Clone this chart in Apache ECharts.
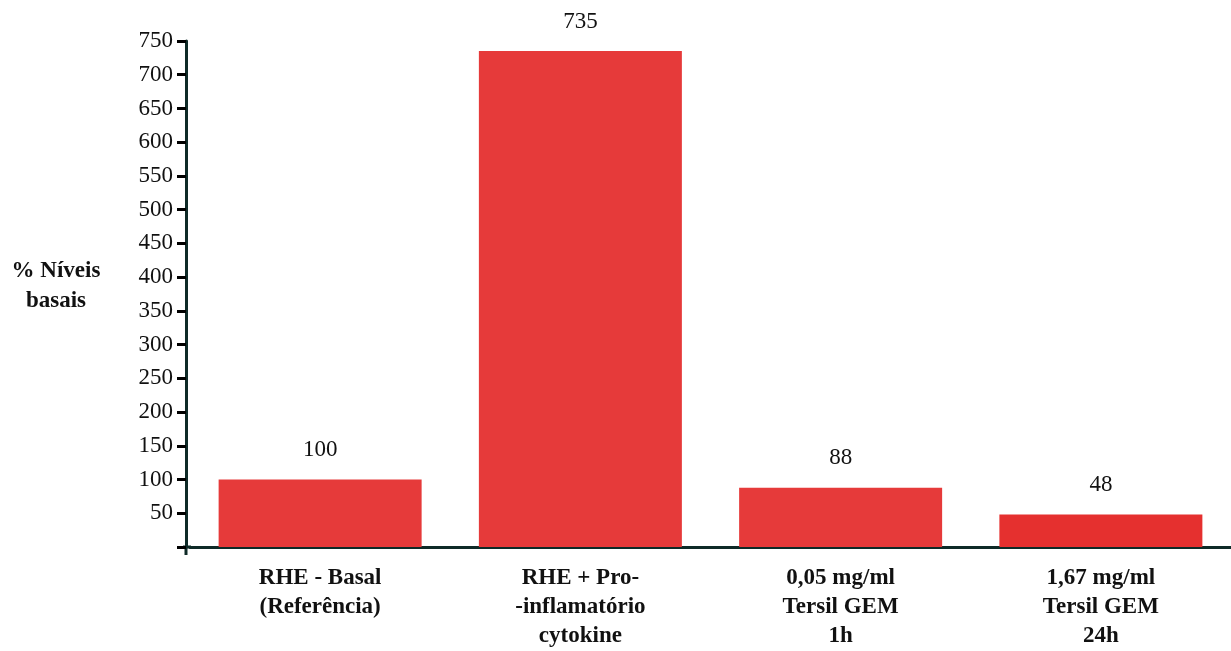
<!DOCTYPE html>
<html>
<head>
<meta charset="utf-8">
<script src="https://cdn.jsdelivr.net/npm/echarts@6/dist/echarts.min.js"></script>
<style>
  html, body { margin: 0; padding: 0; background: #ffffff; }
  #chart { width: 1231px; height: 651px; }
</style>
</head>
<body>
<div id="chart"></div>
<script>
// Categories (multi-line axis labels) and the measured values
const categories = [
  'RHE - Basal\n(Referência)',
  'RHE + Pro-\n-inflamatório\ncytokine',
  '0,05 mg/ml\nTersil GEM\n1h',
  '1,67 mg/ml\nTersil GEM\n24h'
];
const values = [100, 735, 88, 48];
const yTicks = [0, 50, 100, 150, 200, 250, 300, 350, 400, 450, 500, 550, 600, 650, 700, 750];
const yAxisTitle = '% Níveis\nbasais';

const SERIF = '"Liberation Serif", "DejaVu Serif", serif';
const AXIS_COLOR = '#0e2a27';
const TEXT_COLOR = '#111111';
const barColors = ['#e63a3a', '#e63a3a', '#e63a3a', '#e5302f'];
const GRID_LEFT = 190;
const Y_OFFSET = 4;

const chart = echarts.init(document.getElementById('chart'), null, { renderer: 'canvas' });

chart.setOption({
  animation: false,
  backgroundColor: '#ffffff',
  grid: { left: GRID_LEFT, right: 0, top: 41, bottom: 95, containLabel: false },
  xAxis: {
    type: 'category',
    data: categories,
    axisLine: { show: true, lineStyle: { color: AXIS_COLOR, width: 3 } },
    axisTick: { show: false },
    axisLabel: {
      interval: 0,
      margin: 17,
      fontFamily: SERIF,
      fontWeight: 'bold',
      fontSize: 23,
      lineHeight: 29,
      color: TEXT_COLOR
    },
    splitLine: { show: false }
  },
  yAxis: {
    type: 'value',
    min: yTicks[0],
    max: yTicks[yTicks.length - 1],
    interval: yTicks[1] - yTicks[0],
    offset: Y_OFFSET,
    axisLine: { show: true, lineStyle: { color: AXIS_COLOR, width: 3 } },
    axisTick: { show: true, inside: false, length: 9, lineStyle: { color: '#000000', width: 3 } },
    axisLabel: {
      margin: 13,
      fontFamily: SERIF,
      fontSize: 23,
      color: TEXT_COLOR,
      formatter: v => (v === 0 ? '' : String(v))
    },
    splitLine: { show: false }
  },
  series: [{
    type: 'bar',
    data: values.map((v, i) => ({ value: v, itemStyle: { color: barColors[i] } })),
    barWidth: 203,
    label: {
      show: true,
      position: 'top',
      distance: 18,
      fontFamily: SERIF,
      fontSize: 23,
      color: TEXT_COLOR
    }
  }]
});

// Baseline position, taken from the value axis, so the axis joins stay aligned
const baseY = chart.convertToPixel({ yAxisIndex: 0 }, 0);
const axisX = GRID_LEFT - Y_OFFSET;

chart.setOption({
  graphic: [
    {
      // y-axis title, two centred lines left of the axis
      type: 'text',
      x: 56,
      y: 256,
      style: {
        text: yAxisTitle,
        font: 'bold 23px ' + SERIF,
        fill: TEXT_COLOR,
        align: 'center',
        verticalAlign: 'top',
        lineHeight: 30
      }
    },
    {
      // baseline continued to the left of the offset value axis
      type: 'line',
      shape: { x1: axisX - 3, y1: baseY, x2: GRID_LEFT + 1, y2: baseY },
      style: { stroke: AXIS_COLOR, lineWidth: 3 }
    },
    {
      // value axis carried just below the baseline
      type: 'line',
      shape: { x1: axisX, y1: baseY, x2: axisX, y2: baseY + 8 },
      style: { stroke: AXIS_COLOR, lineWidth: 3 }
    }
  ]
});
</script>
</body>
</html>
